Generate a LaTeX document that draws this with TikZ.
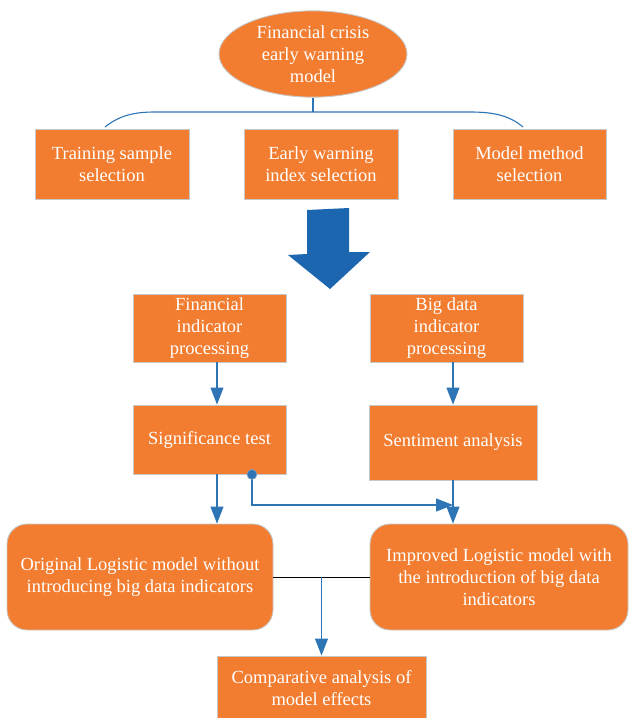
\documentclass[tikz,border=0pt]{standalone}
\usepackage{fontspec}
\setmainfont{Liberation Serif}
\usepackage{xcolor}
\usepackage{tikz}
\usetikzlibrary{positioning,calc,arrows.meta,shapes.geometric}
\definecolor{boxorange}{RGB}{242,125,48}
\definecolor{lineblue}{RGB}{46,117,182}
\definecolor{arrowblue}{RGB}{28,102,176}
\definecolor{edgegray}{RGB}{200,200,200}
\tikzset{
  chartfont/.style={font=\fontsize{18.5}{22}\selectfont},
  orangebox/.style={draw=edgegray, line width=0.9pt, fill=boxorange, text=white, align=center, inner sep=2pt},
  roundbox/.style={orangebox, rounded corners=20pt},
  bluearrow/.style={-{Triangle[length=17pt, width=13pt]}, draw=lineblue, line width=1.1pt},
  blueline/.style={draw=lineblue, line width=1.1pt},
}

\begin{document}
\begin{tikzpicture}[x=1pt, y=-1pt, chartfont]
		\clip (0,0) rectangle (630,718);
		\useasboundingbox (0,0) rectangle (630,718);

		% Top: model and its three parts
		\node[orangebox, ellipse, minimum width=188pt, minimum height=78pt] (ell) at (313,54) {Financial crisis\\early warning\\model};
		\node[orangebox, minimum width=154pt, minimum height=70pt] (tsel) at (112,164) {Training sample\\selection};
		\node[orangebox, minimum width=154pt, minimum height=70pt] (esel) at (321,164) {Early warning\\index selection};
		\node[orangebox, minimum width=153pt, minimum height=70pt] (msel) at (529.5,164) {Model method\\selection};

		% Bracket under the ellipse
		\coordinate (brmid) at (313,112);
		\coordinate (brl) at (105,127);
		\coordinate (brr) at (523,127);
		\draw[blueline] (ell.south) -- (brmid);
		\draw[blueline] (brl) .. controls (120,115) and (135,112) .. (155,112) -- (470,112) .. controls (495,112) and (510,116) .. (brr);

		% Big block arrow
		\fill[arrowblue] (307,210) -- (349,208) -- (349,252) -- (370,252) -- (330,289) -- (288,255) -- (307,254) -- cycle;

		% Processing branches
		\node[orangebox, minimum width=153pt, minimum height=68pt] (fin) at (209.5,328) {Financial\\indicator\\processing};
		\node[orangebox, minimum width=153pt, minimum height=68pt] (big) at (446.5,328) {Big data\\indicator\\processing};
		\node[orangebox, minimum width=153pt, minimum height=69pt] (sig) at (209.5,439.5) {Significance test};
		\node[orangebox, minimum width=168pt, minimum height=75pt] (sent) at (453,442.5) {Sentiment analysis};
		\draw[bluearrow] ([xshift=7.5pt]fin.south) -- ([xshift=7.5pt]fin.south |- sig.north);
		\draw[bluearrow] ([xshift=6.5pt]big.south) -- ([xshift=6.5pt]big.south |- sent.north);

		% Models
		\node[roundbox, minimum width=266pt, minimum height=106pt] (orig) at (140,577) {Original Logistic model without\\introducing big data indicators};
		\node[roundbox, minimum width=258pt, minimum height=106pt] (impr) at (499,577) {Improved Logistic model with\\the introduction of big data\\indicators};
		\draw[bluearrow] ([xshift=7.5pt]sig.south) -- ([xshift=7.5pt]sig.south |- orig.north);
		\draw[bluearrow] (sent.south) -- (sent.south |- impr.north);

		% Link from the significance test
		\coordinate (dot) at ($(sig.south east)+(-34.5,0)$);
		\coordinate (join) at (sent.south |- 0,505);
		\draw[bluearrow] (dot) |- (join);
		\filldraw[fill=lineblue, draw=edgegray!60!lineblue, line width=0.6pt] (dot) circle (5pt);

		% Comparison
		\node[orangebox, minimum width=209pt, minimum height=64pt] (comp) at (321.5,688) {Comparative analysis of\\model effects};
		\draw[line width=0.9pt] (orig.east) -- (impr.west);
		\draw[bluearrow] (comp.north |- orig.east) -- (comp.north);
	\end{tikzpicture}
\end{document}
